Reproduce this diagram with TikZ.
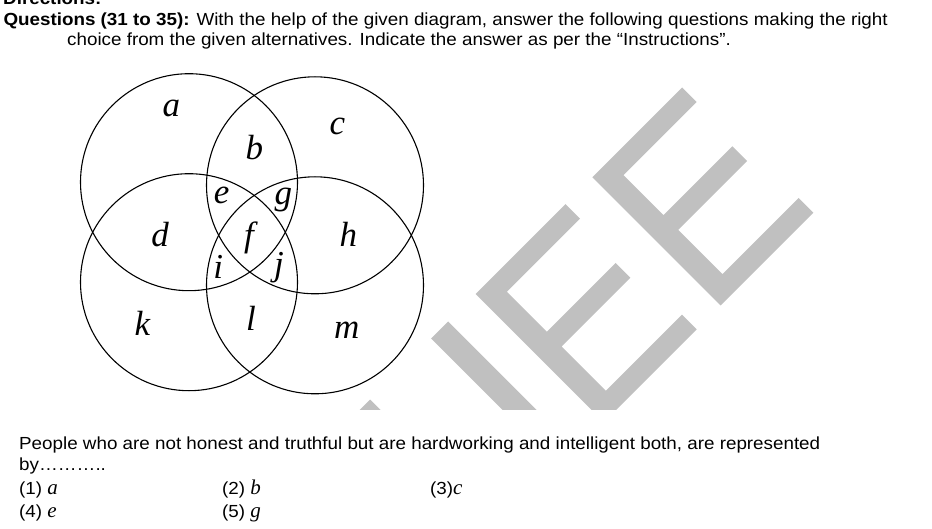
\documentclass[tikz,border=0pt]{standalone}
\usepackage{fontspec}
\setmainfont{Liberation Sans}[FakeStretch=1.075]
\newfontfamily\timesfont{Liberation Serif}
\definecolor{wmgray}{RGB}{192,192,192}
\tikzset{
  txt/.style={anchor=base west, inner sep=0pt, font=\fontsize{17.5}{20}\selectfont},
  venn/.style={inner sep=0pt, font=\timesfont\itshape\fontsize{35}{35}\selectfont},
  ring/.style={line width=1.1pt}
}
\newcommand{\optl}[1]{{\timesfont\itshape\fontsize{21}{21}\selectfont #1}}
% rotated letter E of the watermark, corner at (769.7,#1)
\newcommand{\wmE}[1]{\fill[wmgray, shift={(769.7,#1)}] (0,0) -- (0,179.7) -- (29,179.7) -- (29,33.3)
  -- (109,33.3) -- (109,171) -- (138.3,171) -- (138.3,33.3) -- (227,33.3) -- (227,185.7)
  -- (256.3,185.7) -- (256.3,0) -- cycle;}

\begin{document}
\begin{tikzpicture}[x=1pt, y=-1pt]
  \useasboundingbox (0,0) rectangle (932,529);
  % watermark
  \begin{scope}
    \clip (0,0) rectangle (932,409);
    \begin{scope}[x={(0.5pt,-0.5pt)}, y={(0.5pt,0.5pt)}]
      \fill[wmgray] (769.7,-29.3) -- (769.7,-120) -- (798.7,-120) -- (798.7,-29.3) -- cycle;
      \fill[wmgray] (769.7,92.7) -- (769.7,126.7) -- (1026,126.7) -- (1026,92.7) -- cycle;
      \wmE{181.7}
      \wmE{415}
    \end{scope}
  \end{scope}
  % circles
  \coordinate (TL) at (189,182.2);
  \coordinate (TR) at (315,185.3);
  \coordinate (BL) at (189,282.2);
  \coordinate (BR) at (315,285.3);
  \foreach \c in {TL,TR,BL,BR} \draw[ring] (\c) circle (108.5pt);
  % region labels
  \foreach \t/\p in {a/{171.3,108.7}, b/{254.3,147.7}, c/{337.3,126.3}, d/{160,235},
    e/{221.7,195}, f/{249,238}, g/{283.3,200}, h/{348.3,234.7}, i/{218.3,266.7},
    j/{279,267.7}, k/{142.3,323}, l/{251,318}, m/{346.7,330.7}}
    \node[venn] (\t) at (\p) {\t};
  % text
  \node[txt, font=\bfseries\fontsize{17.5}{20}\selectfont] (dir) at (3,4.5) {Directions:};
  \node[txt] (q1) at (3.3,25.3) {\textbf{Questions (31 to 35):} With the help of the given diagram, answer the following questions making the right};
  \node[txt] (q2) at (67,45.7) {choice from the given alternatives. Indicate the answer as per the “Instructions”.};
  \node[txt] (p1) at (19,449) {People who are not honest and truthful but are hardworking and intelligent both, are represented};
  \node[txt] (p2) at (19,470) {by………..};
  \node[txt] (o1) at (19,494.5) {(1) \optl{a}};
  \node[txt] (o2) at (222,494.5) {(2) \optl{b}};
  \node[txt] (o3) at (430,494.5) {(3)\optl{c}};
  \node[txt] (o4) at (19,517) {(4) \optl{e}};
  \node[txt] (o5) at (222,517) {(5) \optl{g}};
\end{tikzpicture}
\end{document}
